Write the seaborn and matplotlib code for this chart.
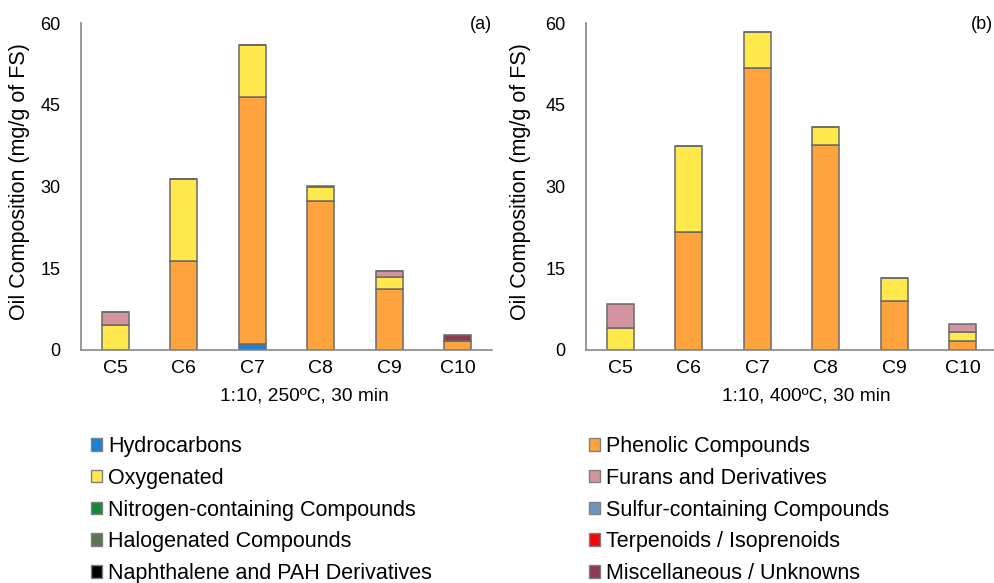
import numpy as np
import pandas as pd
import matplotlib
matplotlib.use("Agg")
import matplotlib.pyplot as plt
from matplotlib.patches import Patch
import seaborn as sns

# Carbon-number groups on the x axis
categories = ["C5", "C6", "C7", "C8", "C9", "C10"]

# Compound classes (stacking order bottom -> top) and their colours
classes = [
    "Hydrocarbons", "Phenolic Compounds", "Oxygenated", "Furans and Derivatives",
    "Nitrogen-containing Compounds", "Sulfur-containing Compounds",
    "Halogenated Compounds", "Terpenoids / Isoprenoids",
    "Naphthalene and PAH Derivatives", "Miscellaneous / Unknowns",
]
class_colors = {
    "Hydrocarbons": "#1a82d6",
    "Oxygenated": "#ffe84b",
    "Nitrogen-containing Compounds": "#16893b",
    "Halogenated Compounds": "#5d7552",
    "Naphthalene and PAH Derivatives": "#000000",
    "Phenolic Compounds": "#ffa33e",
    "Furans and Derivatives": "#d4949f",
    "Sulfur-containing Compounds": "#7092bf",
    "Terpenoids / Isoprenoids": "#ee0a0a",
    "Miscellaneous / Unknowns": "#8e3a51",
}

# (a) 1:10, 250 ºC, 30 min  — mg/g of FS
hydrocarbons_a = [0.0, 0.0, 1.1, 0.0, 0.0, 0.0]
phenolic_a     = [0.0, 16.3, 45.4, 27.3, 11.2, 1.65]
oxygenated_a   = [4.5, 15.0, 9.4, 2.7, 2.25, 0.0]
furans_a       = [2.5, 0.0, 0.0, 0.0, 1.1, 0.0]
misc_a         = [0.0, 0.0, 0.0, 0.0, 0.0, 1.1]

# (b) 1:10, 400 ºC, 30 min  — mg/g of FS
hydrocarbons_b = [0.0, 0.0, 0.0, 0.0, 0.0, 0.0]
phenolic_b     = [0.0, 21.6, 51.7, 37.7, 9.0, 1.7]
oxygenated_b   = [4.0, 15.8, 6.7, 3.2, 4.3, 1.55]
furans_b       = [4.4, 0.0, 0.0, 0.0, 0.0, 1.5]
misc_b         = [0.0, 0.0, 0.0, 0.0, 0.0, 0.0]

panel_titles = ["(a)", "(b)"]
panel_xlabels = ["1:10, 250ºC, 30 min", "1:10, 400ºC, 30 min"]
ylabel = "Oil Composition (mg/g of FS)"
yticks = [0, 15, 30, 45, 60]

legend_left = ["Hydrocarbons", "Oxygenated", "Nitrogen-containing Compounds",
               "Halogenated Compounds", "Naphthalene and PAH Derivatives"]
legend_right = ["Phenolic Compounds", "Furans and Derivatives",
                "Sulfur-containing Compounds", "Terpenoids / Isoprenoids",
                "Miscellaneous / Unknowns"]


def long_table(hc, ph, ox, fu, mi):
    parts = {
        "Hydrocarbons": hc, "Phenolic Compounds": ph, "Oxygenated": ox,
        "Furans and Derivatives": fu, "Miscellaneous / Unknowns": mi,
    }
    rows = []
    for cls in classes:
        vals = parts.get(cls, [0.0] * len(categories))
        for cat, v in zip(categories, vals):
            rows.append({"Carbon": cat, "Class": cls, "Value": v})
    return pd.DataFrame(rows)


tables = [
    long_table(hydrocarbons_a, phenolic_a, oxygenated_a, furans_a, misc_a),
    long_table(hydrocarbons_b, phenolic_b, oxygenated_b, furans_b, misc_b),
]

sns.set_style("white")
plt.rcParams["font.family"] = ["Liberation Sans", "DejaVu Sans"]
plt.rcParams["text.color"] = "black"
plt.rcParams["axes.labelcolor"] = "black"
plt.rcParams["xtick.color"] = "black"
plt.rcParams["ytick.color"] = "black"

W, H = 995, 583
fig = plt.figure(figsize=(W / 100, H / 100), dpi=100)

spine_col = "#888888"
edge_col = "#6a6a6a"

axes_px = [(81, 23, 411, 327), (586, 23, 411, 327)]
xlabel_x = [0.543, 0.535]
ylabel_x = [-0.125, -0.135]
title_x = [1.0, 0.99]

for i, (df, (lx, ty, w, h)) in enumerate(zip(tables, axes_px)):
    ax = fig.add_axes([lx / W, (H - ty - h) / H, w / W, h / H])
    base = np.zeros(len(categories))
    for cls in classes:
        sub = df[df["Class"] == cls]
        vals = sub.set_index("Carbon").loc[categories, "Value"].to_numpy()
        if not np.any(vals > 0):
            continue
        sns.barplot(data=sub, x="Carbon", y="Value", order=categories,
                    color=class_colors[cls], saturation=1, errorbar=None,
                    width=0.4, bottom=base, edgecolor=edge_col, linewidth=1.1,
                    ax=ax)
        base = base + vals

    ax.set_xlim(-0.5, len(categories) - 0.5)
    ax.set_ylim(0, 60)
    ax.set_yticks(yticks)
    ax.set_yticklabels([str(t) for t in yticks], fontsize=13)
    ax.set_xticks(range(len(categories)))
    ax.set_xticklabels(categories, fontsize=14)
    ax.set_xticks(np.arange(0.5, len(categories), 1.0), minor=True)

    ax.tick_params(axis="x", which="major", length=0, pad=7)
    ax.tick_params(axis="x", which="minor", direction="in", length=4,
                   width=1.0, color=spine_col)
    ax.tick_params(axis="y", which="major", direction="out", length=4,
                   width=1.0, color=spine_col, pad=11)

    for side in ("top", "right"):
        ax.spines[side].set_visible(False)
    for side in ("left", "bottom"):
        ax.spines[side].set_color(spine_col)
        ax.spines[side].set_linewidth(1.2)

    ax.set_xlabel(panel_xlabels[i], fontsize=13.8)
    ax.xaxis.set_label_coords(xlabel_x[i], -0.115)
    ax.set_ylabel(ylabel, fontsize=15.5)
    ax.yaxis.set_label_coords(ylabel_x[i], 0.515)

    ax.text(title_x[i], 0.995, panel_titles[i], transform=ax.transAxes,
            ha="right", va="center", fontsize=13)
    ax.grid(False)


def handles_for(names):
    return [Patch(facecolor=class_colors[n], edgecolor="#808080", linewidth=1.0)
            for n in names]


leg_kw = dict(frameon=False, fontsize=15.5, handlelength=0.52, handleheight=0.52,
              handletextpad=0.28, labelspacing=0.5, borderpad=0,
              borderaxespad=0, loc="upper left")
fig.legend(handles_for(legend_left), legend_left,
           bbox_to_anchor=(91 / W, (H - 436) / H), **leg_kw)
fig.legend(handles_for(legend_right), legend_right,
           bbox_to_anchor=(589 / W, (H - 436) / H), **leg_kw)

fig.savefig("out.png", dpi=100)
